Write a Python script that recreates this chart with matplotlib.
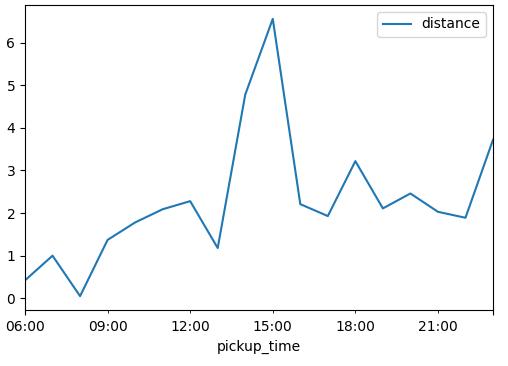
import numpy as np
import matplotlib.pyplot as plt

hours = [6, 7, 8, 9, 10, 11, 12, 13, 14, 15, 16, 17, 18, 19, 20, 21, 22, 23]
distance = [0.42, 1.0, 0.05, 1.37, 1.78, 2.09, 2.28, 1.18, 4.78, 6.56,
            2.21, 1.93, 3.22, 2.11, 2.46, 2.03, 1.89, 3.72]
major_ticks = [6, 23]
major_labels = ["06:00", ""]
minor_ticks = [9, 12, 15, 18, 21]
minor_labels = ["09:00", "12:00", "15:00", "18:00", "21:00"]

fig = plt.figure(figsize=(5.08, 3.66), dpi=100)
ax = fig.add_axes([25 / 508, 56 / 366, 468 / 508, 305 / 366])
ax.plot(hours, distance, color="#1f77b4", linewidth=1.5, label="distance")
ax.set_xlim(hours[0], hours[-1])

ax.set_xticks(major_ticks)
ax.set_xticklabels(major_labels)
ax.set_xticks(minor_ticks, minor=True)
ax.set_xticklabels(minor_labels, minor=True)
ax.tick_params(axis="x", which="minor", length=2, pad=5.5)
ax.set_yticks(range(0, 7))
ax.set_xlabel("pickup_time")
ax.legend(loc="upper right")

fig.savefig("out.png")
